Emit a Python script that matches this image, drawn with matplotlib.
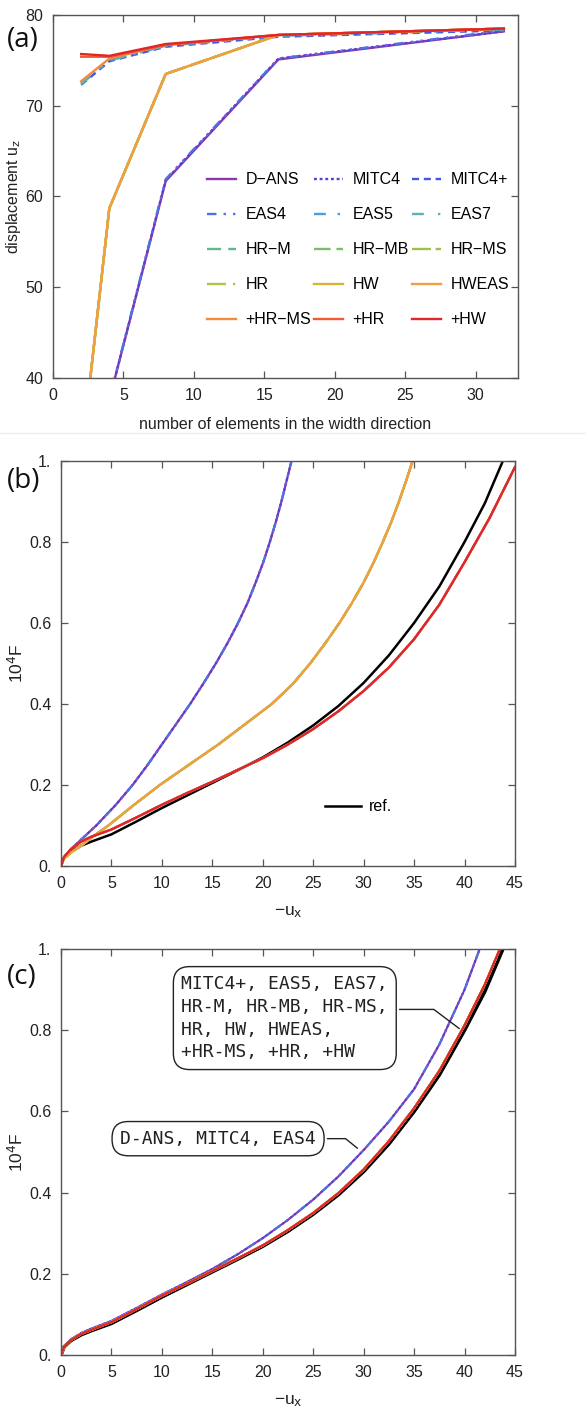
import matplotlib
matplotlib.use("Agg")
import matplotlib.pyplot as plt
from matplotlib.lines import Line2D
from matplotlib.ticker import FixedLocator, FuncFormatter

plt.rcParams['font.family'] = ['Liberation Sans', 'DejaVu Sans']
plt.rcParams['mathtext.default'] = 'regular'

# ---------------- data ----------------
names = ["D−ANS", "MITC4", "MITC4+", "EAS4", "EAS5", "EAS7",
         "HR−M", "HR−MB", "HR−MS", "HR", "HW", "HWEAS",
         "+HR−MS", "+HR", "+HW"]
colors = ["#8a3aa8", "#5e3ad6", "#4654e2", "#4b74e2", "#4c9ddc", "#58b2b6",
          "#5fb88e", "#78c068", "#98c24c", "#b0c23e", "#d8b43a", "#f0a040",
          "#f58a3a", "#f05a30", "#e0262a"]
styles = ["-", (0, (1.2, 1.2)), (0, (3, 2)), (0, (4, 3, 1, 3, 1, 3)),
          (0, (5, 5, 1, 5)), (0, (5, 6, 1, 6)), (0, (6, 3)), (0, (7, 2.5)),
          (0, (8, 2)), (0, (8, 3, 1, 3)), "-", "-", "-", "-", "-"]

# (a) convergence: displacement u_z vs number of elements
n_elem = [2, 4, 8, 16, 32]
uz = {
    "D−ANS":  [12.0, 37.6, 61.7, 75.1, 78.2],
    "MITC4":  [12.0, 37.6, 61.8, 75.2, 78.2],
    "MITC4+": [72.3, 74.9, 76.5, 77.6, 78.3],
    "EAS4":   [12.0, 37.7, 61.9, 75.2, 78.3],
    "EAS5":   [72.4, 75.0, 76.6, 77.7, 78.4],
    "EAS7":   [72.4, 75.0, 76.6, 77.7, 78.4],
    "HR−M":   [31.0, 58.7, 73.5, 77.8, 78.5],
    "HR−MB":  [31.0, 58.7, 73.5, 77.8, 78.5],
    "HR−MS":  [31.0, 58.7, 73.5, 77.8, 78.5],
    "HR":     [31.0, 58.7, 73.5, 77.8, 78.5],
    "HW":     [31.0, 58.7, 73.5, 77.8, 78.5],
    "HWEAS":  [31.0, 58.7, 73.5, 77.8, 78.5],
    "+HR−MS": [72.7, 75.2, 76.7, 77.8, 78.5],
    "+HR":    [75.4, 75.4, 76.7, 77.8, 78.5],
    "+HW":    [75.7, 75.5, 76.8, 77.8, 78.5],
}

# reference load-displacement curve
ref_u = [0, 0.3, 1, 2, 3, 5, 7.5, 10, 12.5, 15, 17.5, 20, 22.5, 25, 27.5,
         30, 32.5, 35, 37.5, 40, 42, 43.8]
ref_F = [0, 0.02, 0.036, 0.05, 0.06, 0.078, 0.11, 0.143, 0.174, 0.205, 0.236,
         0.268, 0.305, 0.347, 0.395, 0.452, 0.52, 0.60, 0.69, 0.80, 0.895, 1.0]

# (b) coarse mesh, three groups of elements
b_stiff_u = [0, 0.3, 1, 2, 3.5, 5.4, 7.1, 8.6, 10.0, 11.4, 12.8, 14.1,
             15.35, 16.5, 17.55, 18.5, 19.3, 20.05, 20.7, 21.3, 21.85, 22.35, 22.85]
b_stiff_F = [0, 0.022, 0.042, 0.065, 0.1, 0.15, 0.2, 0.25, 0.3, 0.35, 0.4, 0.45,
             0.5, 0.55, 0.6, 0.65, 0.7, 0.75, 0.8, 0.85, 0.9, 0.95, 1.0]
b_mid_u = [0, 0.3, 1, 2, 3.3, 4.7, 7.2, 9.8, 12.7, 15.6, 18.25, 20.9, 23.0,
           24.7, 26.2, 27.6, 28.85, 30.0, 31.0, 31.9, 32.75, 33.5, 34.2, 34.85]
b_mid_F = [0, 0.018, 0.033, 0.05, 0.075, 0.1, 0.15, 0.2, 0.25, 0.3, 0.35, 0.4, 0.45,
           0.5, 0.55, 0.6, 0.65, 0.7, 0.75, 0.8, 0.85, 0.9, 0.95, 1.0]
b_low_u = [0, 0.3, 1, 2, 3, 5, 7.5, 10, 12.5, 15, 17.5, 20, 22.5, 25, 27.5, 30,
           32.5, 35, 37.5, 40, 42.5, 45]
b_low_F = [0, 0.022, 0.042, 0.06, 0.072, 0.09, 0.12, 0.151, 0.18, 0.208, 0.237,
           0.266, 0.3, 0.338, 0.382, 0.432, 0.49, 0.56, 0.645, 0.75, 0.86, 0.985]
b_group = {"D−ANS": "stiff", "MITC4": "stiff", "EAS4": "stiff",
           "HR−M": "mid", "HR−MB": "mid", "HR−MS": "mid", "HR": "mid",
           "HW": "mid", "HWEAS": "mid",
           "MITC4+": "low", "EAS5": "low", "EAS7": "low",
           "+HR−MS": "low", "+HR": "low", "+HW": "low"}

# (c) fine mesh, two groups
c_stiff_u = [0, 0.3, 1, 2, 3, 5, 7.5, 10, 12.5, 15, 17.5, 20, 22.5, 25, 27.5,
             30, 32.5, 35, 37.5, 40, 41.5]
c_stiff_F = [0, 0.021, 0.039, 0.054, 0.065, 0.084, 0.116, 0.149, 0.18, 0.212,
             0.248, 0.288, 0.333, 0.383, 0.44, 0.505, 0.575, 0.655, 0.765, 0.9, 1.0]
c_conv_u = [0, 0.3, 1, 2, 3, 5, 7.5, 10, 12.5, 15, 17.5, 20, 22.5, 25, 27.5,
            30, 32.5, 35, 37.5, 40, 42, 43.5]
c_conv_F = [0, 0.02, 0.037, 0.052, 0.062, 0.081, 0.113, 0.146, 0.176, 0.207,
            0.238, 0.27, 0.308, 0.35, 0.399, 0.457, 0.527, 0.608, 0.70, 0.812,
            0.912, 1.0]
c_group = {n: ("stiff" if n in ("D−ANS", "MITC4", "EAS4") else "conv") for n in names}

box1_text = "MITC4+, EAS5, EAS7,\nHR-M, HR-MB, HR-MS,\nHR, HW, HWEAS,\n+HR-MS, +HR, +HW"
box2_text = "D-ANS, MITC4, EAS4"

# ---------------- figure ----------------
fig = plt.figure(figsize=(5.86, 14.14), dpi=100)
ax_a = fig.add_axes([0.0904, 0.7327, 0.7935, 0.2567])
ax_b = fig.add_axes([0.1041, 0.3876, 0.7747, 0.2864])
ax_c = fig.add_axes([0.1041, 0.0417, 0.7747, 0.2871])

tick_col = "#222222"


def style_axes(ax):
    for s in ax.spines.values():
        s.set_color("#555555")
        s.set_linewidth(1.0)
    ax.tick_params(direction="in", top=True, right=True, length=5, width=0.9,
                   color="#555555", labelsize=11.5, labelcolor=tick_col, pad=7)


# (a)
for i, n in enumerate(names):
    ax_a.plot(n_elem, uz[n], color=colors[i], ls=styles[i], lw=1.7, label=n)
ax_a.set_xlim(0, 33)
ax_a.set_ylim(40, 80)
ax_a.set_xticks([0, 5, 10, 15, 20, 25, 30])
ax_a.set_yticks([40, 50, 60, 70, 80])
style_axes(ax_a)
ax_a.set_xlabel("number of elements in the width direction", fontsize=11.5,
                color=tick_col, labelpad=10)
ax_a.set_ylabel("displacement u$_\\mathrm{z}$", fontsize=11.5, color=tick_col, labelpad=2)
h, l = ax_a.get_legend_handles_labels()
order = [i for c in range(3) for i in range(c, 15, 3)]
ax_a.legend([h[i] for i in order], [l[i] for i in order], ncol=3, frameon=False,
            fontsize=11.5, loc="center", bbox_to_anchor=(0.656, 0.353),
            handlelength=1.8, handletextpad=0.6, columnspacing=0.2,
            labelspacing=1.25, borderpad=0)

fmt = FuncFormatter(lambda v, p: {0: "0.", 1: "1."}.get(round(v, 3), f"{v:.1f}"))

# (b)
groups_b = {"stiff": (b_stiff_u, b_stiff_F), "mid": (b_mid_u, b_mid_F),
            "low": (b_low_u, b_low_F)}
ax_b.plot(ref_u, ref_F, color="black", lw=1.8, label="ref.")
for i, n in enumerate(names):
    u, F = groups_b[b_group[n]]
    ax_b.plot(u, F, color=colors[i], ls=styles[i], lw=1.6)

# (c)
groups_c = {"stiff": (c_stiff_u, c_stiff_F), "conv": (c_conv_u, c_conv_F)}
ax_c.plot(ref_u, ref_F, color="black", lw=2.6)
for i, n in enumerate(names):
    u, F = groups_c[c_group[n]]
    ax_c.plot(u, F, color=colors[i], ls=styles[i], lw=1.5)

for ax in (ax_b, ax_c):
    ax.set_xlim(0, 45)
    ax.set_ylim(0, 1)
    ax.xaxis.set_major_locator(FixedLocator([0, 5, 10, 15, 20, 25, 30, 35, 40, 45]))
    ax.yaxis.set_major_locator(FixedLocator([0, 0.2, 0.4, 0.6, 0.8, 1.0]))
    ax.yaxis.set_major_formatter(fmt)
    style_axes(ax)
    ax.set_xlabel("−u$_\\mathrm{x}$", fontsize=12.5, color=tick_col, labelpad=10)
    ax.set_ylabel("10$^\\mathrm{4}$F", fontsize=12.5, color=tick_col, labelpad=2)

ax_b.legend(loc="center left", bbox_to_anchor=(0.565, 0.146), frameon=False,
            fontsize=11.5, handlelength=2.2, handletextpad=0.5, borderpad=0)

bbox = dict(boxstyle="round,pad=0.45,rounding_size=0.9", fc="white", ec="#222222", lw=1.0)
ax_c.annotate(box1_text, xy=(39.7, 0.80), xytext=(0.493, 0.830),
              textcoords="axes fraction", ha="center", va="center",
              multialignment="left",
              family="DejaVu Sans Mono", fontsize=13, linespacing=1.35,
              color="#222222", bbox=bbox,
              arrowprops=dict(arrowstyle="-", color="#222222", lw=1.0, relpos=(1, 0.6),
                              connectionstyle="angle,angleA=0,angleB=-37,rad=0"))
ax_c.annotate(box2_text, xy=(29.6, 0.505), xytext=(0.346, 0.533),
              textcoords="axes fraction", ha="center", va="center",
              family="DejaVu Sans Mono", fontsize=13, color="#222222", bbox=bbox,
              arrowprops=dict(arrowstyle="-", color="#222222", lw=1.0,
                              connectionstyle="angle,angleA=0,angleB=-39,rad=0"))

# panel letters
for y, s in ((1 - 40 / 1414, "(a)"), (1 - 481 / 1414, "(b)"), (1 - 977 / 1414, "(c)")):
    fig.text(0.012, y, s, fontsize=20, family="Open Sans", va="center", ha="left",
             color="#111111")

# faint separator between the panels
fig.add_artist(Line2D([0, 1], [1 - 433 / 1414, 1 - 433 / 1414],
                      transform=fig.transFigure, color="#eeeeee", lw=1))

fig.savefig("out.png", dpi=100)
